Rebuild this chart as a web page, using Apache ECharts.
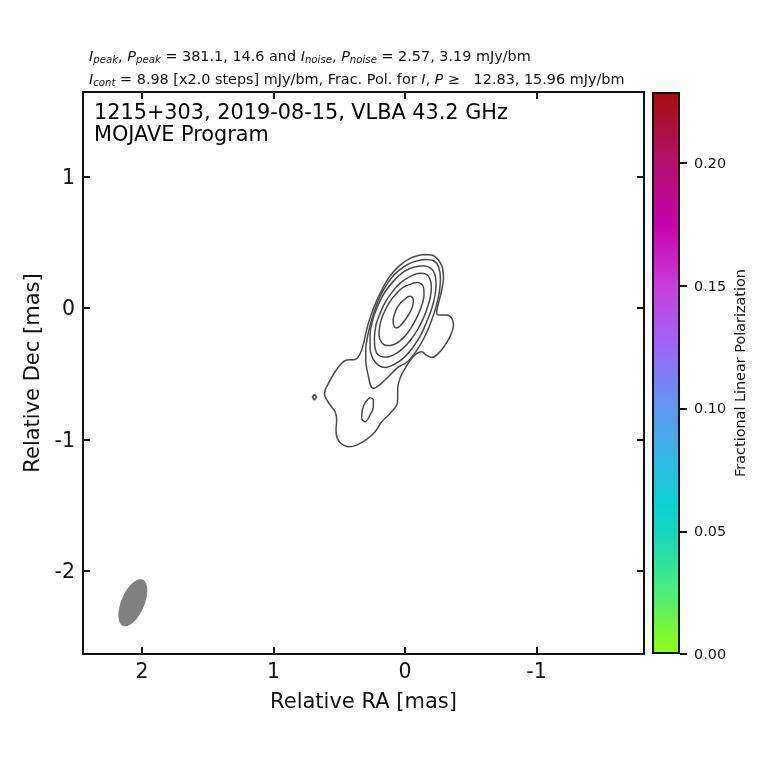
<!DOCTYPE html>
<html>
<head>
<meta charset="utf-8">
<script src="https://cdn.jsdelivr.net/npm/echarts@6/dist/echarts.min.js"></script>
<style>
  html, body { margin: 0; padding: 0; background: #fff; }
  #chart { width: 760px; height: 760px; }
</style>
</head>
<body>
<div id="chart"></div>
<script>
// axis ranges, in mas
var raRange = [-1.817, 2.449];
var decRange = [-2.633, 1.644];
var raTicks = [-1, 0, 1, 2];
var decTicks = [-2, -1, 0, 1];

// colorbar
var polMax = 0.229;
var polTicks = [0, 0.05, 0.10, 0.15, 0.20];
var polStops = [
  [0, '#90ff10'], [0.13, '#40ea88'], [0.218, '#14d8bc'], [0.27, '#0cd0d4'], [0.35, '#30b8e8'],
  [0.437, '#5c98f4'], [0.546, '#9c68f8'], [0.655, '#c83ce0'], [0.764, '#c800b0'], [0.873, '#b81070'], [1, '#a80c0c']
];

// restoring beam [ra, dec, major, minor, position angle deg]
var beam = [2.07, -2.243, 0.383, 0.175, 23];

// contours of total intensity, [ra, dec] in mas, x2 steps from the outside in
var contour1 = [[-0.139,0.408],[-0.203,0.403],[-0.254,0.365],[-0.286,0.301],[-0.292,0.226],[-0.279,0.137],[-0.254,0.036],[-0.241,-0.028],[-0.254,-0.053],[-0.317,-0.053],[-0.355,-0.079],[-0.368,-0.129],[-0.347,-0.206],[-0.304,-0.282],[-0.254,-0.345],[-0.203,-0.376],[-0.160,-0.358],[-0.127,-0.332],[-0.089,-0.345],[-0.051,-0.383],[0,-0.459],[0.038,-0.535],[0.056,-0.611],[0.056,-0.688],[0.063,-0.738],[0.114,-0.802],[0.177,-0.865],[0.228,-0.941],[0.292,-1.000],[0.368,-1.043],[0.431,-1.055],[0.482,-1.035],[0.515,-0.992],[0.525,-0.929],[0.520,-0.852],[0.532,-0.789],[0.570,-0.738],[0.613,-0.649],[0.583,-0.573],[0.532,-0.485],[0.482,-0.421],[0.444,-0.396],[0.380,-0.391],[0.347,-0.358],[0.322,-0.294],[0.304,-0.218],[0.279,-0.117],[0.241,-0.003],[0.190,0.112],[0.127,0.226],[0.051,0.315],[-0.038,0.378],[-0.139,0.408]];
var contour2 = [[-0.076,0.355],[-0.152,0.370],[-0.221,0.358],[-0.256,0.310],[-0.269,0.226],[-0.261,0.124],[-0.236,0.010],[-0.198,-0.104],[-0.152,-0.213],[-0.094,-0.315],[-0.025,-0.403],[0.063,-0.459],[0.152,-0.548],[0.241,-0.611],[0.284,-0.497],[0.299,-0.396],[0.299,-0.320],[0.285,-0.218],[0.262,-0.117],[0.222,0.010],[0.165,0.137],[0.085,0.251],[-0.010,0.327],[-0.076,0.355]];
var contour3 = [[-0.063,0.310],[-0.139,0.322],[-0.195,0.304],[-0.226,0.259],[-0.236,0.188],[-0.228,0.099],[-0.203,-0.003],[-0.165,-0.104],[-0.119,-0.206],[-0.063,-0.294],[0,-0.370],[0.076,-0.426],[0.152,-0.452],[0.203,-0.434],[0.246,-0.383],[0.266,-0.307],[0.266,-0.205],[0.246,-0.091],[0.210,0.010],[0.152,0.124],[0.076,0.218],[0.008,0.277],[-0.063,0.310]];
var contour4 = [[-0.051,0.246],[-0.114,0.264],[-0.165,0.254],[-0.190,0.218],[-0.200,0.162],[-0.193,0.086],[-0.172,0.010],[-0.139,-0.079],[-0.094,-0.167],[-0.038,-0.249],[0.025,-0.315],[0.089,-0.358],[0.152,-0.375],[0.203,-0.358],[0.228,-0.307],[0.233,-0.231],[0.221,-0.129],[0.190,-0.041],[0.152,0.041],[0.101,0.117],[0.033,0.193],[-0.051,0.246]];
var contour5 = [[-0.038,0.180],[-0.089,0.195],[-0.124,0.183],[-0.142,0.150],[-0.144,0.099],[-0.132,0.036],[-0.104,-0.041],[-0.063,-0.122],[-0.013,-0.198],[0.043,-0.254],[0.090,-0.279],[0.135,-0.286],[0.175,-0.266],[0.198,-0.205],[0.190,-0.122],[0.165,-0.046],[0.127,0.030],[0.076,0.099],[0.018,0.155],[-0.038,0.180]];
var contour6 = [[0,0.068],[-0.033,0.089],[-0.053,0.084],[-0.063,0.056],[-0.056,0.010],[-0.033,-0.041],[0,-0.091],[0.038,-0.137],[0.066,-0.152],[0.084,-0.137],[0.091,-0.096],[0.081,-0.048],[0.058,0.005],[0.033,0.041],[0,0.068]];
var island = [[0.266,-0.682],[0.241,-0.700],[0.241,-0.751],[0.266,-0.814],[0.304,-0.865],[0.330,-0.840],[0.325,-0.776],[0.299,-0.713],[0.266,-0.682]];
var speck = [[0.690,-0.657],[0.672,-0.677],[0.690,-0.700],[0.705,-0.677],[0.690,-0.657]];

var FONT = '"DejaVu Sans"';
var INK = '#111';
var contours = [contour1, contour2, contour3, contour4, contour5, contour6, island];

var chart = echarts.init(document.getElementById('chart'), null, { renderer: 'canvas' });

function contourSeries(points, smooth) {
  return {
    type: 'line', xAxisIndex: 0, yAxisIndex: 0, data: points,
    smooth: smooth, showSymbol: false, silent: true, animation: false,
    lineStyle: { color: '#4a4a4a', width: 1.5 }
  };
}

function mainAxis(range, ticks, position, shiftLabel, extra) {
  return Object.assign({
    type: 'value', gridIndex: 0, position: position,
    min: range[0], max: range[1],
    splitLine: { show: false },
    axisLine: { show: true, onZero: false, lineStyle: { color: INK, width: 2 } },
    axisTick: { show: true, inside: true, length: 7, customValues: ticks, lineStyle: { color: INK, width: 2 } },
    axisLabel: shiftLabel === null
      ? { show: false }
      : { show: true, customValues: ticks, color: INK, margin: 8,
          rich: { a: { fontFamily: FONT, fontSize: 20.5, color: INK, padding: [shiftLabel, 0, 0, 0] } },
          formatter: function (v) { return '{a|' + v + '}'; } }
  }, extra);
}

var subRich = {
  i: { fontFamily: FONT, fontSize: 14.4, fontStyle: 'italic', color: INK },
  s: { fontFamily: FONT, fontSize: 10.2, fontStyle: 'italic', color: INK, verticalAlign: 'bottom', padding: [6, 0, 0, 0] }
};
var headStyle = { fontFamily: FONT, fontSize: 14.4, fontWeight: 'normal', color: INK, rich: subRich };

chart.setOption({
  backgroundColor: '#fff',
  animation: false,
  title: [
    { left: 89, top: 49, padding: 0, textStyle: headStyle,
      text: '{i|I}{s|peak}, {i|P}{s|peak} = 381.1, 14.6 and {i|I}{s|noise}, {i|P}{s|noise} = 2.57, 3.19 mJy/bm' },
    { left: 89, top: 72, padding: 0, textStyle: headStyle,
      text: '{i|I}{s|cont} = 8.98 [x2.0 steps] mJy/bm, Frac. Pol. for {i|I}, {i|P} \u2265   12.83, 15.96 mJy/bm' },
    { left: 94, top: 103, padding: 0,
      textStyle: { fontFamily: FONT, fontSize: 20.8, fontWeight: 'normal', color: '#000', lineHeight: 22 },
      text: '1215+303, 2019-08-15, VLBA 43.2 GHz\nMOJAVE Program' }
  ],
  grid: [
    { left: 83, top: 92, width: 561, height: 562 },
    { left: 652, top: 92, width: 28, height: 562 }
  ],
  xAxis: [
    mainAxis(raRange, raTicks, 'bottom', 0, {
      inverse: true, name: 'Relative RA [mas]', nameLocation: 'middle', nameGap: 38,
      nameTextStyle: { fontFamily: FONT, fontSize: 21, color: INK }
    }),
    mainAxis(raRange, raTicks, 'top', null, { inverse: true }),
    { type: 'category', gridIndex: 1, data: ['pol'], show: false }
  ],
  yAxis: [
    mainAxis(decRange, decTicks, 'left', 4, {
      name: 'Relative Dec [mas]', nameLocation: 'middle', nameGap: 39,
      nameTextStyle: { fontFamily: FONT, fontSize: 21, color: INK }
    }),
    mainAxis(decRange, decTicks, 'right', null, {}),
    {
      type: 'value', gridIndex: 1, position: 'right', min: 0, max: polMax,
      splitLine: { show: false },
      axisLine: { show: false },
      axisTick: { show: true, length: 7, customValues: polTicks, lineStyle: { color: INK, width: 2 } },
      axisLabel: { show: true, customValues: polTicks, color: INK, margin: 14,
        rich: { a: { fontFamily: FONT, fontSize: 14.4, color: INK, padding: [2, 0, 0, 0] } },
        formatter: function (v) { return '{a|' + v.toFixed(2) + '}'; } },
      name: 'Fractional Linear Polarization', nameLocation: 'middle', nameGap: 54,
      nameTextStyle: { fontFamily: FONT, fontSize: 14.4, color: INK }
    }
  ],
  series: contours.map(function (c) { return contourSeries(c, 0.4); }).concat([
    contourSeries(speck, false),
    {
      type: 'custom', xAxisIndex: 0, yAxisIndex: 0, silent: true, data: [beam],
      renderItem: function (params, api) {
        var pa = beam[4] * Math.PI / 180, pts = [];
        for (var k = 0; k < 72; k++) {
          var t = k / 72 * 2 * Math.PI;
          var u = beam[2] / 2 * Math.cos(t), v = beam[3] / 2 * Math.sin(t);
          // position angle runs from north towards east, east is +RA
          pts.push(api.coord([beam[0] + u * Math.sin(pa) * -1 + v * Math.cos(pa), beam[1] + u * Math.cos(pa) + v * Math.sin(pa)]));
        }
        return { type: 'polygon', shape: { points: pts }, style: { fill: '#808080' } };
      }
    },
    {
      type: 'bar', xAxisIndex: 2, yAxisIndex: 2, data: [polMax], barWidth: '100%', silent: true,
      itemStyle: {
        borderColor: INK, borderWidth: 2,
        color: new echarts.graphic.LinearGradient(0, 1, 0, 0, polStops.map(function (s) {
          return { offset: s[0], color: s[1] };
        }))
      }
    }
  ])
});
</script>
</body>
</html>
